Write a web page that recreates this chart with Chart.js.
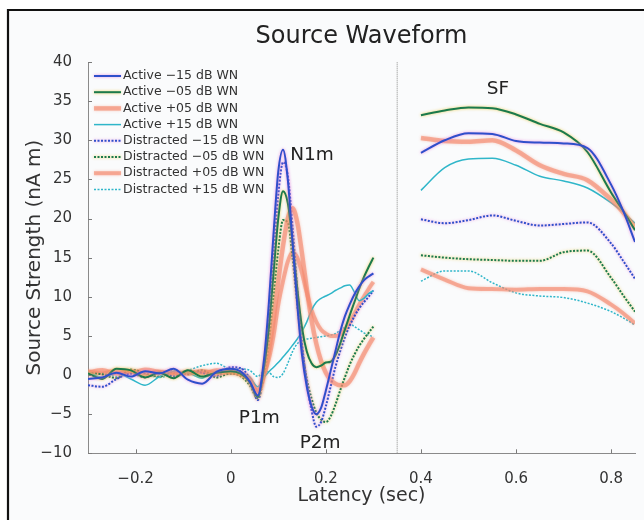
<!DOCTYPE html>
<html>
<head>
<meta charset="utf-8">
<script src="https://cdn.jsdelivr.net/npm/chart.js@4.4.1/dist/chart.umd.min.js"></script>
<style>
  html, body { margin: 0; padding: 0; background: #fff; }
</style>
</head>
<body>
<canvas id="chart" width="644" height="520"></canvas>
<script>
// latency samples (sec) for the evoked window and the sustained field window
const leftTime = [-0.3,-0.27,-0.24,-0.21,-0.18,-0.15,-0.12,-0.09,-0.06,-0.03,0,0.02,0.04,0.057,0.07,0.08,0.09,0.1,0.11,0.12,0.13,0.14,0.15,0.16,0.17,0.18,0.19,0.2,0.21,0.22,0.23,0.24,0.25,0.26,0.27,0.28,0.29,0.3];
const rightTime = [0.4,0.45,0.5,0.55,0.6,0.65,0.7,0.75,0.8,0.825,0.85];

const seriesLabels = ['Active \u221215 dB WN','Active \u221205 dB WN','Active +05 dB WN','Active +15 dB WN',
  'Distracted \u221215 dB WN','Distracted \u221205 dB WN','Distracted +05 dB WN','Distracted +15 dB WN'];

// source strength (nA m)
const activeM15Left = [-0.5,-0.3,0.3,-0.2,0.5,0.2,0.8,-0.6,-1.1,0.4,0.8,0.5,-0.8,-2.6,2,9,18,26,28.8,25,17,9,2.5,-1.5,-4,-5,-4.2,-2,0.5,3,5.5,7.5,9,10.3,11.3,12.1,12.6,13];
const activeM05Left = [0.2,-0.5,0.8,0.6,-0.3,0.3,-0.4,0.6,-0.2,0.3,0.5,0.2,-0.9,-2.8,1,6,13,20,23.5,22,17,11,6,3,1.5,1,1.2,1.6,1.7,2.5,4,5.8,7.6,9.3,11,12.5,13.8,15];
const activeP05Left = [0.3,0.6,0.2,0.5,0.1,0.4,0.3,0.2,0.5,0.2,0.4,0.1,-0.6,-2.2,0,3,7,12,16.5,20,21.3,19.5,15.5,11,7,4,1.8,0.3,-0.6,-1.1,-1.3,-1.3,-0.8,0.2,1.5,2.7,3.8,4.8];
const activeP15Left = [0.4,-0.3,0.2,-0.5,-1.3,-0.2,0.5,0.3,-0.4,0.5,0.7,0.4,-0.3,-1.5,-0.3,0.4,1,1.6,2.3,3,3.8,4.6,5.6,6.8,8.3,9.3,9.8,10.1,10.4,10.8,11.1,11.4,11.5,10.6,9.5,9.8,10.4,10.8];
const distM15Left = [-1.3,-1.5,-0.5,0.2,-0.3,0.4,-0.2,0.5,0.3,-0.1,1,0.9,-0.5,-3.2,0.5,6,15,23,27.2,25.5,19,11,4,-1,-4.5,-6.6,-6,-4,-1.5,1,3,4.8,6.3,7.5,8.5,9.3,10,10.8];
const distM05Left = [0.3,0.1,-0.4,0.7,0.2,-0.2,0.5,0.1,0.6,-0.3,0.2,-0.1,-1.3,-3,0,4,10,16,19.8,19.5,15,9,3.5,-0.5,-3,-4.8,-5.7,-6,-5.3,-3.8,-2,-0.3,1.3,2.6,3.7,4.6,5.4,6.2];
const distP05Left = [0.5,0.2,0.6,0.3,0.7,0.4,0.1,0.4,0.2,0.6,0.3,0.2,-0.4,-2,0,2,5,9,12,14.5,15.7,15,13,10.5,8.3,6.8,5.8,5.3,5,5,5.2,5.8,6.7,7.8,9,10,11,11.9];
const distP15Left = [0.1,0.3,-0.2,0.4,0.1,-0.3,0.2,0.6,1.2,1.5,0.8,0.8,0.6,-0.2,0.5,0.4,-0.2,-0.3,0.2,1.5,3,4,4.4,4.6,4.7,4.8,4.9,5,5.1,5.3,5.7,6.1,6.5,6.2,5.8,5.4,5.1,4.9];

const activeM15Right = [28.4,30,30.9,30.8,29.9,29.7,29.6,29,24.3,21,17];
const activeM05Right = [33.2,33.8,34.2,34.1,33.3,32.1,31,28.5,23.3,21,18.5];
const activeP05Right = [30.3,29.9,29.8,30,28.7,26.8,25.7,24.9,22.4,20.8,18.9];
const activeP15Right = [23.6,26.5,27.6,27.7,26.8,25.4,24.8,23.9,22,20.8,19.4];
const distM15Right = [19.9,19.4,19.8,20.4,19.7,19.1,19.3,19.5,16.8,14.6,12.3];
const distM05Right = [15.3,15,14.8,14.7,14.6,14.6,15.7,15.9,12.4,10.2,8.1];
const distP05Right = [13.5,12.2,11.1,11,10.9,11,11,10.7,9,7.9,6.6];
const distP15Right = [12,13.3,13.3,11.8,10.5,10.1,9.9,9.2,8.1,7.3,6.4];

const xTickValues = [-0.2,0,0.2,0.4,0.6,0.8];
const windowSplit = 0.35;

const annotations = [
  { text: 'N1m', x: 0.171, y: 28.1 },
  { text: 'P1m', x: 0.060, y: -5.5 },
  { text: 'P2m', x: 0.188, y: -8.7 },
  { text: 'SF',  x: 0.562, y: 36.5 }
];

function toPoints(left, right) {
  const pts = leftTime.map((t, i) => ({ x: t, y: left[i] }));
  pts.push({ x: windowSplit, y: null });
  rightTime.forEach((t, i) => pts.push({ x: t, y: right[i] }));
  return pts;
}

const BLUE = '#2f4fcb', GREEN = '#1b7a4c', SALMON = 'rgba(244,136,108,0.62)', CYAN = '#2fb6c9';
const PINK = 'rgba(230,120,220,0.8)', YELLOW = 'rgba(235,200,60,0.85)', SALMON_HALO = 'rgba(246,150,125,0.7)';

const datasets = [
  { data: toPoints(activeM15Left, activeM15Right), borderColor: BLUE, borderWidth: 2, halo: PINK },
  { data: toPoints(activeM05Left, activeM05Right), borderColor: GREEN, borderWidth: 2, halo: YELLOW },
  { data: toPoints(activeP05Left, activeP05Right), borderColor: SALMON, borderWidth: 4.5, halo: SALMON_HALO },
  { data: toPoints(activeP15Left, activeP15Right), borderColor: CYAN, borderWidth: 1.5 },
  { data: toPoints(distM15Left, distM15Right), borderColor: BLUE, borderWidth: 2, borderDash: [2, 1.5], halo: PINK },
  { data: toPoints(distM05Left, distM05Right), borderColor: GREEN, borderWidth: 2, borderDash: [2, 1.5], halo: YELLOW },
  { data: toPoints(distP05Left, distP05Right), borderColor: SALMON, borderWidth: 4, halo: SALMON_HALO },
  { data: toPoints(distP15Left, distP15Right), borderColor: CYAN, borderWidth: 1.5, borderDash: [2, 1.5] }
].map((d, i) => Object.assign(d, {
  label: seriesLabels[i], pointRadius: 0, fill: false,
  cubicInterpolationMode: 'monotone', spanGaps: false
}));

const FONT = '"DejaVu Sans", sans-serif';

// frame and light panel behind the figure
const framePlugin = {
  id: 'frame',
  beforeDraw(chart) {
    const ctx = chart.ctx;
    ctx.save();
    ctx.fillStyle = '#ffffff';
    ctx.fillRect(0, 0, chart.width, chart.height);
    ctx.fillStyle = '#fafbfc';
    ctx.fillRect(9, 11, chart.width - 9, chart.height - 11);
    ctx.strokeStyle = '#111';
    ctx.lineWidth = 2.2;
    ctx.beginPath();
    ctx.moveTo(8, chart.height);
    ctx.lineTo(8, 10);
    ctx.lineTo(chart.width, 10);
    ctx.stroke();
    ctx.restore();
  }
};

const haloPlugin = {
  id: 'halo',
  beforeDatasetDraw(chart, args) {
    const ds = chart.data.datasets[args.index];
    if (ds.halo) {
      chart.ctx.save();
      chart.ctx.shadowColor = ds.halo;
      chart.ctx.shadowBlur = 3;
    }
  },
  afterDatasetDraw(chart, args) {
    if (chart.data.datasets[args.index].halo) chart.ctx.restore();
  }
};

const overlayPlugin = {
  id: 'overlay',
  beforeDatasetsDraw(chart) {
    const { ctx, chartArea: { top, bottom }, scales: { x } } = chart;
    const px = x.getPixelForValue(windowSplit);
    ctx.save();
    ctx.strokeStyle = '#8a8a8a';
    ctx.lineWidth = 1;
    ctx.setLineDash([1, 1]);
    ctx.beginPath();
    ctx.moveTo(px, bottom);
    ctx.lineTo(px, top);
    ctx.stroke();
    ctx.restore();
  },
  afterDraw(chart) {
    const { ctx, chartArea: { left, right, top, bottom }, scales: { x, y } } = chart;
    ctx.save();

    // inward ticks
    ctx.strokeStyle = '#7a7a7a';
    ctx.lineWidth = 1;
    ctx.beginPath();
    y.ticks.forEach(t => {
      const py = Math.round(y.getPixelForValue(t.value)) + 0.5;
      ctx.moveTo(left, py);
      ctx.lineTo(left + 4, py);
    });
    x.ticks.forEach(t => {
      const px = Math.round(x.getPixelForValue(t.value)) + 0.5;
      ctx.moveTo(px, bottom);
      ctx.lineTo(px, bottom - 4);
    });
    ctx.stroke();

    // title
    ctx.fillStyle = '#222';
    ctx.font = '24px ' + FONT;
    ctx.textAlign = 'center';
    ctx.textBaseline = 'middle';
    ctx.fillText('Source Waveform', (left + right) / 2, 37);

    // peak labels
    ctx.font = '18.5px ' + FONT;
    annotations.forEach(a => {
      ctx.fillText(a.text, x.getPixelForValue(a.x), y.getPixelForValue(a.y));
    });

    // legend
    ctx.font = '12.5px ' + FONT;
    ctx.textAlign = 'left';
    chart.data.datasets.forEach((ds, i) => {
      const ly = top + 14 + i * 16.2;
      ctx.save();
      ctx.strokeStyle = ds.borderColor;
      ctx.lineWidth = ds.borderWidth;
      ctx.setLineDash(ds.borderDash || []);
      if (ds.halo) { ctx.shadowColor = ds.halo; ctx.shadowBlur = 3; }
      ctx.beginPath();
      ctx.moveTo(left + 6, ly);
      ctx.lineTo(left + 33, ly);
      ctx.stroke();
      ctx.restore();
      ctx.fillStyle = '#333';
      ctx.fillText(ds.label, left + 35, ly);
    });
    ctx.restore();
  }
};

const minus = s => s.replace('-', '\u2212');

new Chart(document.getElementById('chart').getContext('2d'), {
  type: 'line',
  data: { datasets },
  plugins: [framePlugin, haloPlugin, overlayPlugin],
  options: {
    responsive: false,
    animation: false,
    layout: { padding: { left: 0, right: 9, top: 62, bottom: 0 } },
    plugins: { legend: { display: false }, tooltip: { enabled: false }, title: { display: false } },
    scales: {
      x: {
        type: 'linear', min: -0.3, max: 0.85,
        afterBuildTicks: s => { s.ticks = xTickValues.map(v => ({ value: v })); },
        afterFit: s => { s.height = 66.7; },
        grid: { display: false },
        border: { display: true, color: '#8a8a8a', width: 1 },
        ticks: {
          color: '#333', padding: 9, maxRotation: 0,
          font: { family: FONT, size: 15 },
          callback: v => v === 0 ? '0' : minus(v.toFixed(1))
        },
        title: {
          display: true, text: 'Latency (sec)', color: '#333',
          font: { family: FONT, size: 19 }, padding: { top: 0, bottom: 13 }
        }
      },
      y: {
        min: -10, max: 40,
        ticks: {
          stepSize: 5, color: '#333', padding: 8,
          font: { family: FONT, size: 15 },
          callback: v => minus(String(v))
        },
        afterFit: s => { s.width = 88; },
        grid: { display: false },
        border: { display: true, color: '#8a8a8a', width: 1 },
        title: {
          display: true, text: 'Source Strength (nA m)', color: '#333',
          font: { family: FONT, size: 20 }, padding: { top: 23, bottom: 0 }
        }
      }
    }
  }
});
</script>
</body>
</html>
